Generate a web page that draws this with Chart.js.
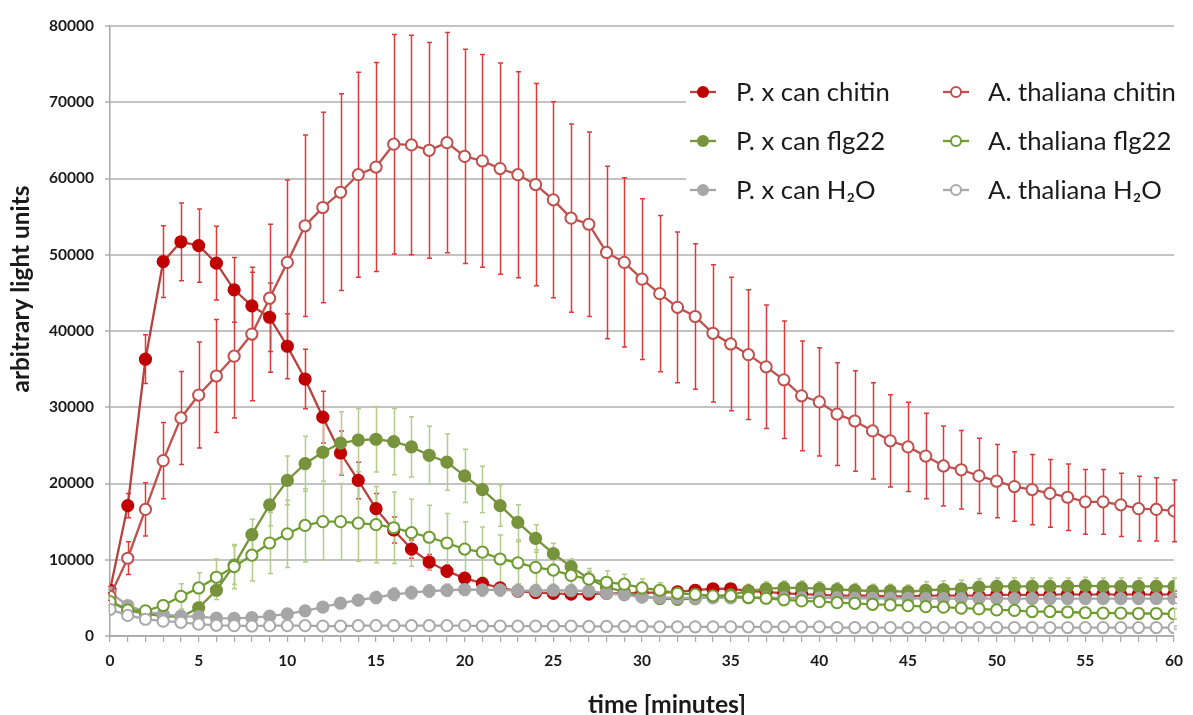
<!DOCTYPE html>
<html><head><meta charset="utf-8">
<script src="https://cdn.jsdelivr.net/npm/chart.js@4.4.1/dist/chart.umd.min.js"></script>
<style>html,body{margin:0;padding:0;background:#fff}#wrap{width:1193px;height:715px}</style>
</head><body><div id="wrap"><canvas id="c" width="1193" height="715"></canvas></div>
<script>
// ---------- DATA ----------
const minutes = [0,1,2,3,4,5,6,7,8,9,10,11,12,13,14,15,16,17,18,19,20,21,22,23,24,25,26,27,28,29,30,31,32,33,34,35,36,37,38,39,40,41,42,43,44,45,46,47,48,49,50,51,52,53,54,55,56,57,58,59,60];
const xTickStep = 5;
const yTicks = [0,10000,20000,30000,40000,50000,60000,70000,80000];

const seriesNames = ['P. x can chitin','P. x can flg22','P. x can H₂O','A. thaliana chitin','A. thaliana flg22','A. thaliana H₂O'];

const pxChitin = [6000,17100,36300,49100,51700,51200,48900,45400,43300,41800,38000,33700,28700,24000,20400,16700,13900,11400,9700,8500,7600,6900,6300,5900,5700,5600,5500,5500,5600,5600,5700,5700,5800,6000,6200,6200,5900,5800,5600,5500,5400,5300,5300,5300,5200,5200,5300,5300,5300,5300,5400,5400,5400,5400,5500,5400,5500,5400,5500,5400,5500];
const pxChitinErr = [500,1600,3200,4700,5100,4800,4850,4250,4400,4500,4250,3900,3400,2900,2400,2000,1700,1200,1000,800,700,600,500,400,400,400,400,400,400,400,400,400,400,400,400,400,400,400,400,400,400,400,400,400,400,400,400,400,400,400,400,400,400,400,400,400,400,400,400,400,400];

const pxFlg = [4600,3400,2900,2600,2500,3700,6000,9300,13300,17200,20400,22600,24100,25300,25700,25800,25500,24800,23700,22800,21000,19200,17100,14900,12800,10800,9100,7500,6400,5800,5200,4900,4800,4900,5200,5400,5900,6200,6300,6300,6200,6100,6000,5900,5900,5800,6000,6100,6200,6400,6500,6500,6500,6500,6500,6600,6500,6500,6500,6500,6500];
const pxFlgErr = [500,400,400,400,500,800,1200,2500,2000,2750,3200,3600,3800,4100,4150,4300,4350,3950,3800,3700,3500,3050,2700,2300,1800,1350,1000,1000,900,900,800,700,700,700,700,700,900,900,900,900,900,900,900,900,900,900,1100,1100,1100,1100,1100,1100,1100,1100,1100,1100,1100,1100,1100,1100,1100];

const pxH2O = [5700,4000,3200,2850,2600,2550,2350,2300,2400,2600,2900,3300,3800,4300,4700,5050,5450,5700,5900,6000,6100,6050,6050,5950,5950,6000,5950,5900,5600,5400,5100,5050,5000,5000,5000,5000,5000,5000,5000,5000,5000,5000,4950,4950,4950,4950,4900,4900,4900,4900,4900,4900,4900,4900,4900,4900,4900,4900,4900,4900,4900];
const pxH2OErr = [400,300,300,300,300,300,300,300,300,300,400,500,500,600,700,800,800,800,800,800,800,800,800,800,800,800,800,800,600,600,600,600,600,600,600,600,600,600,600,600,600,600,600,600,600,600,600,600,600,600,600,600,600,600,600,600,600,600,600,600,600];

const atChitin = [5200,10200,16600,23000,28600,31600,34100,36700,39600,44300,49000,53800,56200,58200,60500,61500,64500,64400,63700,64700,62900,62300,61300,60500,59200,57200,54800,54000,50300,49000,46800,44900,43100,41900,39700,38300,36900,35300,33600,31500,30700,29100,28200,26900,25600,24800,23600,22300,21800,21000,20300,19600,19200,18700,18200,17600,17600,17200,16700,16600,16400];
const atChitinErr = [500,2150,3500,5000,6100,6950,7400,8100,8750,9700,10800,11900,12500,12900,13450,13700,14400,14400,14150,14450,14050,13950,13850,13500,13250,12850,12350,12100,11300,11100,10550,10250,9900,9550,9000,8750,8500,8100,7700,7200,7100,6750,6600,6300,6050,5850,5600,5250,5150,4950,4800,4550,4600,4450,4350,4250,4250,4150,4250,4150,4050];

const atFlg = [4500,3400,3300,4000,5200,6300,7700,9100,10600,12200,13400,14500,15000,15000,14800,14600,14200,13550,12950,12200,11400,11000,10100,9600,9000,8650,7950,7450,7050,6800,6300,6000,5600,5450,5270,5250,5050,4950,4750,4600,4500,4370,4280,4150,4070,3980,3850,3780,3650,3550,3420,3350,3200,3200,3150,3050,3000,3000,2950,2950,2900];
const atFlgErr = [400,400,400,700,1650,2000,2400,2900,3400,4000,4400,4800,5000,5000,5000,5000,4700,4400,4200,3850,3600,3300,3150,2750,2300,2000,1700,1400,1500,1300,1200,1000,900,800,700,700,700,700,700,700,700,700,700,700,700,700,700,700,700,700,700,700,700,700,700,700,700,700,700,700,700];

const atH2O = [3500,2700,2200,1950,1800,1550,1400,1350,1300,1350,1350,1350,1300,1300,1350,1350,1350,1350,1350,1350,1350,1300,1300,1300,1300,1300,1300,1250,1250,1250,1250,1200,1200,1200,1200,1200,1200,1200,1200,1200,1200,1100,1100,1100,1100,1100,1100,1100,1100,1100,1100,1100,1100,1100,1100,1100,1100,1100,1100,1100,1100];
const atH2OErr = [200,200,200,200,200,200,200,200,200,200,200,200,200,200,200,200,200,200,200,200,200,200,200,200,200,200,200,200,200,200,200,200,200,200,200,200,200,200,200,200,200,200,200,200,200,200,200,200,200,200,200,200,200,200,200,200,200,200,200,200,200];

// ---------- STYLE ----------
const FONT = "Lato, 'Open Sans', 'DejaVu Sans', sans-serif";
const TEXT = '#1a1a1a';
const GRID = '#C3C3C3';
const AXIS = '#A8A8A8';

// font sizing to match reference text widths
const mctx = document.createElement('canvas').getContext('2d');
function fitSize(text, weight, targetW){ mctx.font = weight+' 20px '+FONT; return 20*targetW/mctx.measureText(text).width; }
const tickSize = fitSize('80000','bold',45);
const legendSize = fitSize('A. thaliana chitin','normal',188);
const yTitleSize = fitSize('arbitrary light units','bold',207);
const xTitleSize = fitSize('time [minutes]','bold',158);

const pts = arr => minutes.map((m,i)=>({x:m,y:arr[i]}));

function ds(i, data, errs, o){
  return Object.assign({
    label: seriesNames[i], data: pts(data), errors: errs,
    borderWidth: 2.3, pointBorderWidth: 1.6, pointRadius: 5.8, pointHoverRadius: 5.8,
    tension: 0, fill: false
  }, o);
}

const datasets = [
  ds(0, pxChitin, pxChitinErr, {borderColor:'#B8403D', pointBackgroundColor:'#C00000', pointBorderColor:'#C00000', errColor:'#DD3A3A', filled:true, order:6}),
  ds(1, pxFlg, pxFlgErr, {borderColor:'#77933C', pointBackgroundColor:'#77933C', pointBorderColor:'#77933C', errColor:'#B4CC8A', filled:true, order:5}),
  ds(2, pxH2O, pxH2OErr, {borderColor:'#A6A6A6', pointBackgroundColor:'#A6A6A6', pointBorderColor:'#A6A6A6', errColor:'#A6A6A6', filled:true, order:4}),
  ds(3, atChitin, atChitinErr, {borderColor:'#C0504D', pointBackgroundColor:'#FFFFFF', pointBorderColor:'#C0504D', errColor:'#DD3A3A', filled:false, order:3, pointRadius:5.6, pointBorderWidth:2}),
  ds(4, atFlg, atFlgErr, {borderColor:'#6F9C30', pointBackgroundColor:'#FFFFFF', pointBorderColor:'#6F9C30', errColor:'#B4CC8A', filled:false, order:2, pointRadius:5.6, pointBorderWidth:2}),
  ds(5, atH2O, atH2OErr, {borderColor:'#A9A9A9', pointBackgroundColor:'#FFFFFF', pointBorderColor:'#A9A9A9', errColor:'#BBBBBB', filled:false, order:1, pointRadius:5.6, pointBorderWidth:2})
];

const overlay = {
  id: 'overlay',
  beforeDatasetsDraw(chart){
    const {ctx, chartArea:a, scales:{x,y}} = chart;
    ctx.save();
    // legend background (covers grid lines)
    ctx.fillStyle = '#FFFFFF';
    ctx.fillRect(a.right - 488, a.top + 44, 500, 150);
    // error bars
    chart.data.datasets.forEach(d=>{
      ctx.strokeStyle = d.errColor; ctx.lineWidth = 1.5;
      d.data.forEach((p,j)=>{
        const e = d.errors[j];
        const px = Math.round(x.getPixelForValue(p.x))+0.5;
        const t = y.getPixelForValue(p.y+e), b = y.getPixelForValue(p.y-e);
        ctx.beginPath();
        ctx.moveTo(px,t); ctx.lineTo(px,b);
        ctx.moveTo(px-2.5,t); ctx.lineTo(px+2.5,t);
        ctx.moveTo(px-2.5,b); ctx.lineTo(px+2.5,b);
        ctx.stroke();
      });
    });
    ctx.restore();
  },
  afterDraw(chart){
    const {ctx, chartArea:a} = chart;
    ctx.save();
    // legend
    const colMarker = [a.right - 471, a.right - 218];
    const colText = [a.right - 438, a.right - 186];
    const rowY = [a.top + 66, a.top + 115, a.top + 164];
    chart.data.datasets.forEach((d,i)=>{
      const col = i < 3 ? 0 : 1, row = i % 3;
      const mx = colMarker[col], my = rowY[row];
      ctx.strokeStyle = d.borderColor; ctx.lineWidth = 2.3;
      ctx.beginPath(); ctx.moveTo(mx-13,my); ctx.lineTo(mx+13,my); ctx.stroke();
      ctx.beginPath();
      if (d.filled){ ctx.fillStyle = d.pointBackgroundColor; ctx.arc(mx,my,6,0,Math.PI*2); ctx.fill(); }
      else { ctx.fillStyle='#fff'; ctx.arc(mx,my,5,0,Math.PI*2); ctx.fill(); ctx.lineWidth=2; ctx.strokeStyle=d.pointBorderColor; ctx.stroke(); }
      ctx.fillStyle = TEXT; ctx.font = legendSize.toFixed(2)+'px '+FONT;
      ctx.textAlign = 'left'; ctx.textBaseline = 'middle';
      ctx.fillText(d.label, colText[col], my+1);
    });
    // axis titles
    ctx.fillStyle = TEXT; ctx.textAlign='center'; ctx.textBaseline='middle';
    ctx.font = 'bold '+yTitleSize.toFixed(2)+'px '+FONT;
    ctx.save(); ctx.translate(21, a.top + 263); ctx.rotate(-Math.PI/2); ctx.fillText('arbitrary light units',0,0); ctx.restore();
    ctx.font = 'bold '+xTitleSize.toFixed(2)+'px '+FONT;
    ctx.fillText('time [minutes]', a.left + 557, a.bottom + 69);
    ctx.restore();
  }
};

new Chart(document.getElementById('c'), {
  type: 'line',
  data: { datasets },
  options: {
    responsive: false, animation: false, devicePixelRatio: 1,
    layout: { padding: { left: 0, right: 12, top: 26, bottom: 0 } },
    plugins: { legend: { display: false }, tooltip: { enabled: false } },
    scales: {
      x: {
        type: 'linear', min: minutes[0], max: minutes[minutes.length-1],
        afterFit(s){ s.height = 79; },
        afterBuildTicks(s){ s.ticks = minutes.map(v=>({value:v})); },
        ticks: { autoSkip: false, maxRotation: 0, padding: 10, color: TEXT,
                 font: { family: FONT, size: tickSize, weight: 'bold' },
                 callback: v => (v % xTickStep === 0 ? String(v) : '') },
        grid: { drawOnChartArea: false, drawTicks: true, tickLength: 6, color: AXIS, lineWidth: 1.2 },
        border: { display: true, color: AXIS, width: 1.5 }
      },
      y: {
        min: yTicks[0], max: yTicks[yTicks.length-1],
        afterFit(s){ s.width = 110; },
        afterBuildTicks(s){ s.ticks = yTicks.map(v=>({value:v})); },
        ticks: { padding: 11, color: TEXT, font: { family: FONT, size: tickSize, weight: 'bold' },
                 callback: v => String(v) },
        grid: { color: GRID, lineWidth: 2, drawTicks: true, tickLength: 5 },
        border: { display: true, color: AXIS, width: 1.5 }
      }
    }
  },
  plugins: [overlay]
});
</script></body></html>
